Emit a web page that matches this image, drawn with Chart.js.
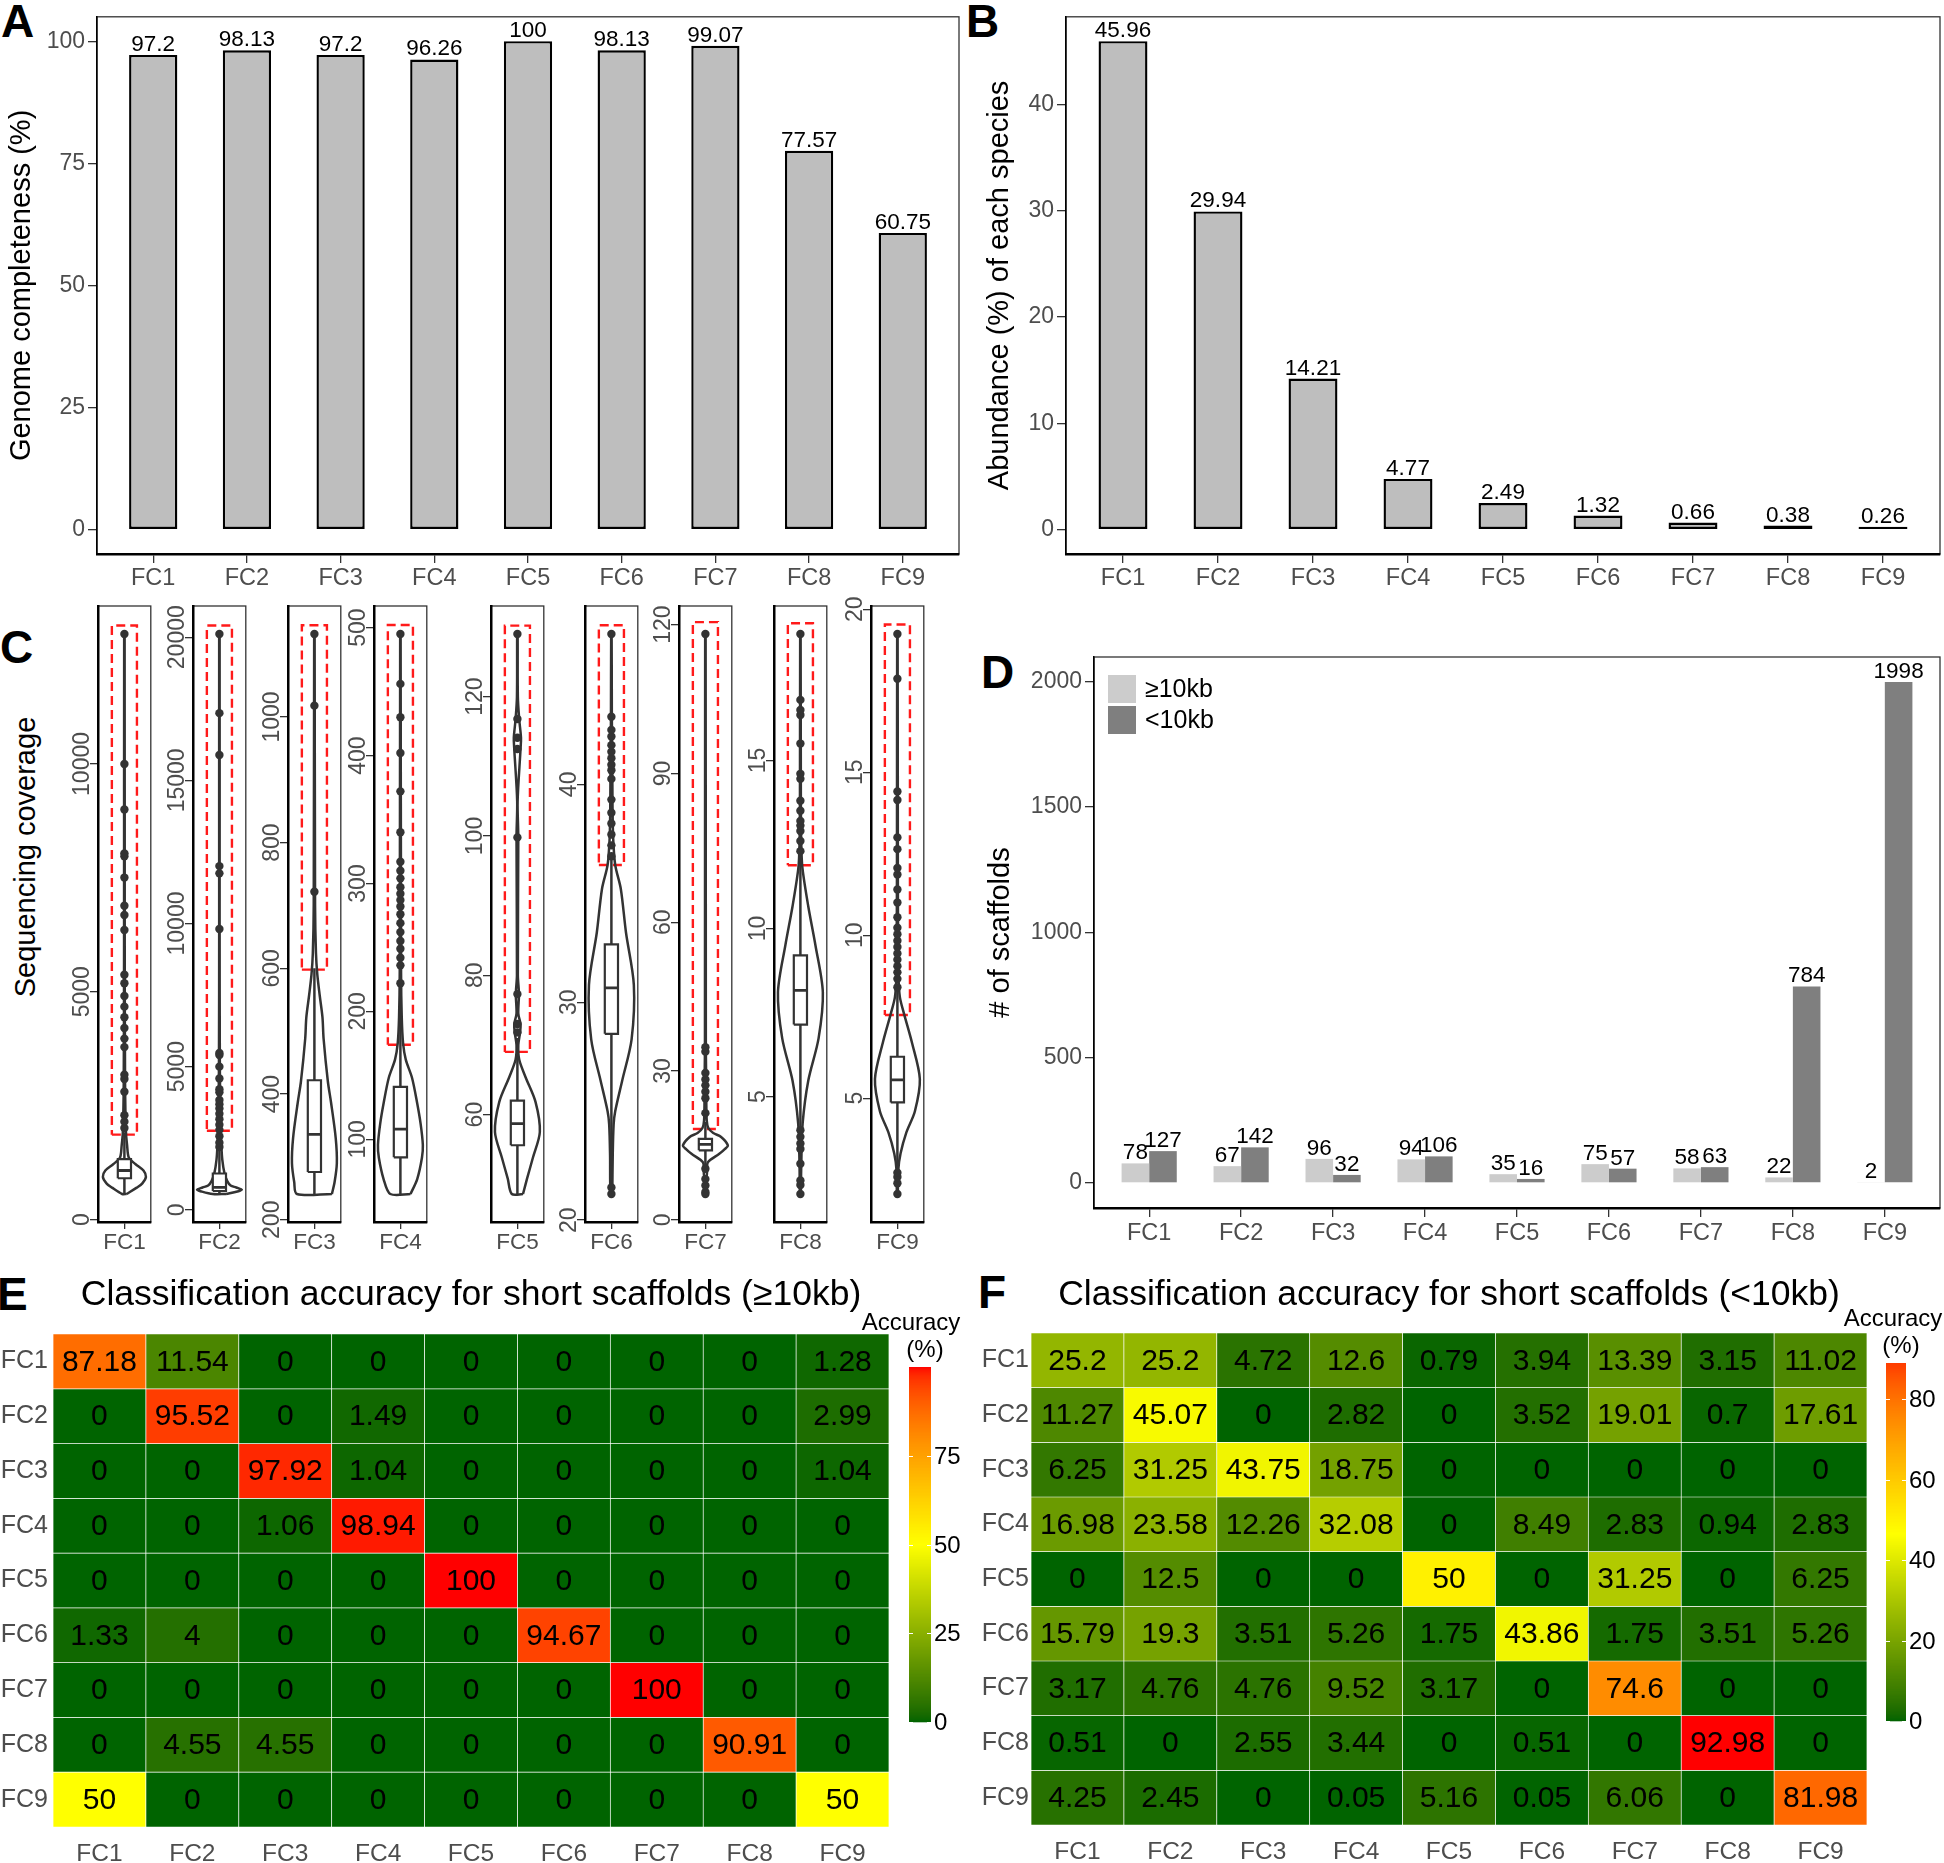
<!DOCTYPE html>
<html>
<head>
<meta charset="utf-8">
<title>Genome bins</title>
<script src="https://cdn.jsdelivr.net/npm/chart.js@4.4.1/dist/chart.umd.min.js"></script>
<style>
  html, body { margin: 0; padding: 0; background: #fff; }
  body { position: relative; width: 1944px; height: 1863px; overflow: hidden; font-family: 'Liberation Sans', Arial, sans-serif; }
  canvas { position: absolute; }
  .tag { position: absolute; font-size: 46px; font-weight: bold; line-height: 1; color: #000; }
  .ytitle { position: absolute; width: 400px; text-align: center; font-size: 29px; line-height: 34px; transform: rotate(-90deg); color: #000; }
</style>
</head>
<body>
<div class="tag" style="left:1px;top:-2px">A</div>
<div class="tag" style="left:966px;top:-2px">B</div>
<div class="tag" style="left:0px;top:624px">C</div>
<div class="tag" style="left:981px;top:649px">D</div>
<div class="tag" style="left:-3px;top:1271px">E</div>
<div class="tag" style="left:978px;top:1269px">F</div>
<div class="ytitle" style="left:-175px;top:840px">Sequencing coverage</div>

<canvas id="cA" width="972" height="600" style="left:0;top:0"></canvas>
<canvas id="cB" width="972" height="600" style="left:972px;top:0"></canvas>
<canvas id="cD" width="972" height="660" style="left:972px;top:600px"></canvas>
<canvas id="cE" width="972" height="603" style="left:0;top:1260px"></canvas>
<canvas id="cF" width="972" height="603" style="left:972px;top:1260px"></canvas>

<script>
const FC = ['FC1', 'FC2', 'FC3', 'FC4', 'FC5', 'FC6', 'FC7', 'FC8', 'FC9'];

// A: genome completeness (%)
const completeness = [97.2, 98.13, 97.2, 96.26, 100, 98.13, 99.07, 77.57, 60.75];
const ticksA = [0, 25, 50, 75, 100];

// B: abundance (%)
const abundance = [45.96, 29.94, 14.21, 4.77, 2.49, 1.32, 0.66, 0.38, 0.26];
const ticksB = [0, 10, 20, 30, 40];

// D: number of scaffolds
const scafLong = [78, 67, 96, 94, 35, 75, 58, 22, 2];
const scafShort = [127, 142, 32, 106, 16, 57, 63, 784, 1998];
const ticksD = [0, 500, 1000, 1500, 2000];

// C: coverage distributions, violin outline as [coverage, relative width]
const shapeFC1 = [[562, 0.1], [702, 0.55], [795, 0.8], [936, 0.96], [1076, 0.85], [1216, 0.5], [1356, 0.2], [1637, 0.12], [1917, 0.07], [3000, 0.03], [6000, 0.015], [12852, 0.01]];
const shapeFC2 = [[552, 0.3], [640, 0.8], [702, 1.0], [780, 0.75], [851, 0.5], [1000, 0.35], [1299, 0.22], [1747, 0.13], [2195, 0.09], [3000, 0.05], [5000, 0.02], [10000, 0.01], [20112, 0.01]];
const shapeFC3 = [[241, 0.78], [260, 0.9], [290, 1.0], [330, 0.95], [387, 0.74], [420, 0.6], [488, 0.41], [522, 0.36], [556, 0.24], [590, 0.13], [624, 0.07], [700, 0.03], [1132, 0.01]];
const shapeFC4 = [[57.3, 0.45], [69, 0.75], [85.6, 0.96], [95.6, 1.0], [112.3, 0.9], [129, 0.74], [148, 0.52], [162.3, 0.24], [175, 0.12], [195.6, 0.06], [230, 0.03], [495, 0.01]];
const shapeFC5 = [[48.6, 0.25], [50.8, 0.43], [53.8, 0.69], [57.5, 1.0], [61.8, 0.81], [65.4, 0.36], [67.9, 0.08], [70, 0.04], [71.8, 0.12], [73, 0.14], [74.5, 0.04], [77.3, 0.07], [80, 0.02], [99.8, 0.04], [105, 0.01], [112.5, 0.14], [114.1, 0.16], [116.8, 0.08], [120, 0.02], [129, 0.01]];
const shapeFC6 = [[21.2, 0.04], [23, 0.06], [24.4, 0.1], [25, 0.17], [26.4, 0.48], [28.3, 0.9], [30.8, 1.0], [33.2, 0.65], [35.2, 0.42], [36.3, 0.17], [37.5, 0.08], [39, 0.05], [41, 0.04], [43, 0.02], [46.9, 0.01]];
const shapeFC7 = [[5.2, 0.03], [8, 0.05], [10, 0.08], [11.6, 0.11], [13.3, 0.62], [14.2, 0.85], [15, 1.0], [16.7, 0.7], [17.5, 0.35], [18.5, 0.13], [20, 0.06], [24, 0.04], [30, 0.03], [35, 0.02], [118.1, 0.01]];
const shapeFC8 = [[2.1, 0.02], [3, 0.04], [4.2, 0.1], [5.47, 0.35], [6.73, 0.81], [8.1, 1.0], [9.5, 0.67], [10.66, 0.35], [11.8, 0.09], [12.5, 0.04], [14, 0.02], [18.76, 0.01]];
const shapeFC9 = [[2.06, 0.02], [2.8, 0.04], [3.3, 0.14], [3.95, 0.4], [4.6, 0.78], [5.59, 1.0], [6.7, 0.65], [7.6, 0.29], [8.1, 0.11], [8.7, 0.05], [10, 0.03], [12, 0.02], [19.24, 0.01]];

// boxplot: [lower whisker, q1, median, q3, upper whisker]
const boxFC = [
  [562, 908, 1078, 1328, 1917],
  [552, 657, 780, 1268, 2150],
  [241, 276, 336, 422, 600],
  [57.3, 86, 108, 141, 222],
  [48.6, 55.6, 58.7, 62, 71],
  [22.5, 28.55, 30.66, 32.66, 36.6],
  [10.6, 14.0, 15.2, 16.3, 19.7],
  [4.1, 7.14, 8.16, 9.2, 12.2],
  [2.8, 4.87, 5.56, 6.27, 8.35]
];

const outFC1 = [2010, 2150, 2290, 2806, 3084, 3178, 3786, 3972, 4206, 4440, 4674, 4908, 5188, 5374, 6356, 6684, 6888, 7506, 7973, 8038, 9000, 10000, 12852];
const outFC2 = [2195, 2344, 2568, 2792, 2970, 3166, 3358, 3539, 3686, 3837, 4106, 4211, 4584, 5000, 5405, 5479, 9808, 11751, 12005, 15884, 17348, 20112];
const outFC3 = [722, 1018, 1132];
const outFC4 = [222, 236, 242, 249, 255, 262, 269, 276, 282, 287, 292, 297, 304, 310, 317, 340, 372, 402, 430, 456, 495];
const outFC5 = [71.8, 73, 77.3, 99.8, 112.5, 114.1, 116.8, 129];
const outFC6 = [21.2, 21.5, 36.7, 37.2, 37.7, 38.2, 38.7, 39.3, 40.25, 40.65, 40.9, 41.2, 41.5, 41.8, 42.2, 42.5, 43.1, 46.9];
const outFC7 = [5.2, 5.6, 6.9, 8.2, 10.3, 21.5, 24.5, 25.8, 27.1, 28.3, 29.6, 33.9, 34.8, 118.1];
const outFC8 = [2.1, 2.37, 2.5, 3.0, 3.44, 3.6, 3.8, 4.0, 12.3, 12.6, 12.9, 13.06, 13.2, 13.5, 13.8, 14.45, 14.6, 15.5, 16.35, 16.5, 16.8, 18.76];
const outFC9 = [2.06, 2.39, 2.58, 2.71, 8.4, 8.66, 8.86, 9.05, 9.25, 9.44, 9.64, 9.83, 10.03, 10.23, 10.55, 11.0, 11.4, 11.86, 12.06, 12.64, 13.0, 14.15, 14.41, 17.87, 19.24];

// red dashed windows: [low, high]
const windowFC = [[1864, 13040], [2760, 20410], [598, 1146], [174, 502], [69, 130.2], [36.3, 47.3], [18.3, 120.5], [11.88, 19.08], [7.55, 19.53]];

const covTicks = [
  [0, 5000, 10000], [0, 5000, 10000, 15000, 20000], [200, 400, 600, 800, 1000],
  [100, 200, 300, 400, 500], [60, 80, 100, 120], [20, 30, 40],
  [0, 30, 60, 90, 120], [5, 10, 15], [5, 10, 15, 20]
];

// E / F: classification accuracy (%), rows = true bin, columns = assigned bin
const accLong = [
  [87.18, 11.54, 0, 0, 0, 0, 0, 0, 1.28],
  [0, 95.52, 0, 1.49, 0, 0, 0, 0, 2.99],
  [0, 0, 97.92, 1.04, 0, 0, 0, 0, 1.04],
  [0, 0, 1.06, 98.94, 0, 0, 0, 0, 0],
  [0, 0, 0, 0, 100, 0, 0, 0, 0],
  [1.33, 4, 0, 0, 0, 94.67, 0, 0, 0],
  [0, 0, 0, 0, 0, 0, 100, 0, 0],
  [0, 4.55, 4.55, 0, 0, 0, 0, 90.91, 0],
  [50, 0, 0, 0, 0, 0, 0, 0, 50]
];
const accShort = [
  [25.2, 25.2, 4.72, 12.6, 0.79, 3.94, 13.39, 3.15, 11.02],
  [11.27, 45.07, 0, 2.82, 0, 3.52, 19.01, 0.7, 17.61],
  [6.25, 31.25, 43.75, 18.75, 0, 0, 0, 0, 0],
  [16.98, 23.58, 12.26, 32.08, 0, 8.49, 2.83, 0.94, 2.83],
  [0, 12.5, 0, 0, 50, 0, 31.25, 0, 6.25],
  [15.79, 19.3, 3.51, 5.26, 1.75, 43.86, 1.75, 3.51, 5.26],
  [3.17, 4.76, 4.76, 9.52, 3.17, 0, 74.6, 0, 0],
  [0.51, 0, 2.55, 3.44, 0, 0.51, 0, 92.98, 0],
  [4.25, 2.45, 0, 0.05, 5.16, 0.05, 6.06, 0, 81.98]
];
const cbTicksE = [0, 25, 50, 75];
const cbTicksF = [0, 20, 40, 60, 80];

// ---------------------------------------------------------------
const FONT = "'Liberation Sans', Arial, sans-serif";
const GREY = '#4d4d4d';
Chart.defaults.font.family = FONT;
Chart.defaults.color = GREY;
Chart.defaults.responsive = false;
Chart.defaults.maintainAspectRatio = false;
Chart.defaults.animation = false;
Chart.defaults.events = [];
Chart.defaults.plugins.legend.display = false;
Chart.defaults.plugins.tooltip.enabled = false;

const setTicks = arr => s => { s.ticks = arr.map(v => ({ value: v })); };
const fixW = w => s => { s.width = w; };
const fixH = h => s => { s.height = h; };
const tickGrid = len => ({ display: true, drawOnChartArea: false, offset: false, drawTicks: true, tickLength: len, color: '#333', lineWidth: 1.3 });
const asPoints = arr => arr.map((v, i) => ({ x: i + 1, y: v }));
const padded = (lo, hi) => { const p = (hi - lo) * 0.05; return [lo - p, hi + p]; };

// thin panel border
const frame = {
  id: 'frame',
  beforeDraw(chart) {
    const a = chart.chartArea, ctx = chart.ctx;
    ctx.save();
    ctx.strokeStyle = '#333';
    ctx.lineWidth = 1.3;
    ctx.strokeRect(a.left, a.top, a.right - a.left, a.bottom - a.top);
    ctx.restore();
  }
};

// numbers above bars
const valueLabels = {
  id: 'valueLabels',
  afterDatasetsDraw(chart) {
    const ctx = chart.ctx;
    ctx.save();
    ctx.font = '22.5px ' + FONT;
    ctx.fillStyle = '#000';
    ctx.textAlign = 'center';
    ctx.textBaseline = 'alphabetic';
    chart.data.datasets.forEach((ds, i) => {
      chart.getDatasetMeta(i).data.forEach((el, j) => {
        ctx.fillText(String(ds.data[j].y), el.x, el.y - 4);
      });
    });
    ctx.restore();
  }
};

// legend keys inside panel D
const keyLegend = {
  id: 'keyLegend',
  afterDraw(chart) {
    const ctx = chart.ctx, a = chart.chartArea;
    ctx.save();
    ctx.font = '25px ' + FONT;
    ctx.textBaseline = 'middle';
    chart.data.datasets.forEach((ds, i) => {
      const y = a.top + 18 + i * 31;
      ctx.fillStyle = ds.backgroundColor;
      ctx.fillRect(a.left + 14, y, 28, 28);
      ctx.fillStyle = '#000';
      ctx.fillText(ds.label, a.left + 51, y + 15);
    });
    ctx.restore();
  }
};

function barOptions(o) {
  return {
    layout: { padding: o.padding },
    scales: {
      x: {
        type: 'linear', min: 0.4, max: 9.6, offset: false,
        afterBuildTicks: setTicks(FC.map((n, i) => i + 1)),
        ticks: { callback: v => FC[v - 1], color: GREY, font: { size: 23.5 }, padding: o.xPad, autoSkip: false, maxRotation: 0 },
        grid: tickGrid(9),
        border: { color: '#000', width: 2.6 },
        afterFit: fixH(o.xH)
      },
      y: {
        min: o.range[0], max: o.range[1],
        afterBuildTicks: setTicks(o.ticks),
        ticks: { callback: v => String(v), color: GREY, font: { size: 23 }, padding: 3 },
        grid: tickGrid(9),
        border: { color: '#000', width: 1.5 },
        title: { display: true, text: o.title, color: '#000', font: { size: 29 }, padding: { top: o.titlePad, bottom: 0 } },
        afterFit: fixW(o.yW)
      }
    }
  };
}

const greyBar = { backgroundColor: '#bebebe', borderColor: '#000', borderWidth: 2.4, borderSkipped: false, barPercentage: 0.515, categoryPercentage: 1 };

new Chart(document.getElementById('cA'), {
  type: 'bar',
  data: { datasets: [Object.assign({ data: asPoints(completeness) }, greyBar)] },
  options: barOptions({ padding: { top: 3, right: 13 }, xH: 46, xPad: 1, yW: 97, range: padded(0, Math.max(...completeness)), ticks: ticksA, title: 'Genome completeness (%)', titlePad: 5 }),
  plugins: [frame, valueLabels]
});

new Chart(document.getElementById('cB'), {
  type: 'bar',
  data: { datasets: [Object.assign({ data: asPoints(abundance) }, greyBar)] },
  options: barOptions({ padding: { top: 3, right: 4 }, xH: 46, xPad: 1, yW: 94, range: padded(0, Math.max(...abundance)), ticks: ticksB, title: 'Abundance (%) of each species', titlePad: 11 }),
  plugins: [frame, valueLabels]
});

new Chart(document.getElementById('cD'), {
  type: 'bar',
  data: {
    datasets: [
      { label: '\u226510kb', data: asPoints(scafLong), backgroundColor: '#cccccc', barPercentage: 1, categoryPercentage: 0.6 },
      { label: '<10kb', data: asPoints(scafShort), backgroundColor: '#7f7f7f', barPercentage: 1, categoryPercentage: 0.6 }
    ]
  },
  options: barOptions({ padding: { top: 57, right: 4 }, xH: 52, xPad: 2, yW: 122, range: padded(0, Math.max(...scafShort)), ticks: ticksD, title: '# of scaffolds', titlePad: 12 }),
  plugins: [frame, valueLabels, keyLegend]
});

// ---------------- C: violins ----------------
const shapes = [shapeFC1, shapeFC2, shapeFC3, shapeFC4, shapeFC5, shapeFC6, shapeFC7, shapeFC8, shapeFC9];
const outliers = [outFC1, outFC2, outFC3, outFC4, outFC5, outFC6, outFC7, outFC8, outFC9];
const cPanelLeft = [98, 193, 288, 374, 491, 585, 679, 774, 871];
const VIOLIN_HALF = 0.51, BOX_HALF = 0.15, WIN_HALF = 0.285;

const rotTicks = {
  id: 'rotTicks',
  afterDraw(chart) {
    const s = chart.scales.y, ctx = chart.ctx;
    ctx.save();
    ctx.font = '23px ' + FONT;
    ctx.fillStyle = GREY;
    ctx.textAlign = 'center';
    ctx.textBaseline = 'middle';
    s.ticks.forEach(t => {
      ctx.save();
      ctx.translate(s.right - 15, s.getPixelForValue(t.value));
      ctx.rotate(-Math.PI / 2);
      ctx.fillText(String(t.value), 0, 0);
      ctx.restore();
    });
    ctx.restore();
  }
};

function violinOutline(shape) {
  const right = shape.map(([v, w]) => ({ x: w * VIOLIN_HALF, y: v }));
  const left = shape.slice().reverse().map(([v, w]) => ({ x: -w * VIOLIN_HALF, y: v }));
  return right.concat(left, [right[0]]);
}

shapes.forEach((shape, i) => {
  const cv = document.createElement('canvas');
  cv.width = 99; cv.height = 664;
  cv.style.left = (cPanelLeft[i] - 42) + 'px';
  cv.style.top = '596px';
  document.body.appendChild(cv);

  const [lw, q1, med, q3, uw] = boxFC[i];
  const [wl, wh] = windowFC[i];
  const allVals = shape.map(p => p[0]).concat(outliers[i]);
  const range = padded(Math.min(...allVals), Math.max(...allVals));
  const line = { showLine: true, pointRadius: 0, borderColor: '#333', borderWidth: 2.5, fill: false };

  new Chart(cv, {
    type: 'scatter',
    data: {
      datasets: [
        Object.assign({}, line, { data: [{ x: -WIN_HALF, y: wl }, { x: WIN_HALF, y: wl }, { x: WIN_HALF, y: wh }, { x: -WIN_HALF, y: wh }, { x: -WIN_HALF, y: wl }], borderColor: '#ff1a1a', borderWidth: 2.4, borderDash: [9, 5], order: 6 }),
        Object.assign({}, line, { data: violinOutline(shape), tension: 0.3, order: 5 }),
        Object.assign({}, line, { data: [{ x: 0, y: lw }, { x: 0, y: q1 }, { x: 0, y: null }, { x: 0, y: q3 }, { x: 0, y: uw }], spanGaps: false, order: 4 }),
        Object.assign({}, line, { data: [{ x: -BOX_HALF, y: q1 }, { x: BOX_HALF, y: q1 }, { x: BOX_HALF, y: q3 }, { x: -BOX_HALF, y: q3 }, { x: -BOX_HALF, y: q1 }], fill: 'shape', backgroundColor: '#fff', borderWidth: 2.2, order: 3 }),
        Object.assign({}, line, { data: [{ x: -BOX_HALF, y: med }, { x: BOX_HALF, y: med }], borderWidth: 2.8, order: 2 }),
        { data: outliers[i].map(v => ({ x: 0, y: v })), pointRadius: 4.2, pointBackgroundColor: '#333', pointBorderWidth: 0, showLine: false, order: 1 }
      ]
    },
    options: {
      layout: { padding: { top: 10, right: 4 } },
      scales: {
        x: {
          type: 'linear', min: -0.6, max: 0.6,
          afterBuildTicks: setTicks([0]),
          ticks: { callback: () => FC[i], color: GREY, font: { size: 22.5 }, padding: 0, autoSkip: false, maxRotation: 0 },
          grid: tickGrid(7),
          border: { color: '#000', width: 2.5 },
          afterFit: fixH(38)
        },
        y: {
          min: range[0], max: range[1],
          afterBuildTicks: setTicks(covTicks[i]),
          ticks: { display: false },
          grid: tickGrid(8),
          border: { color: '#000', width: 2.5 },
          afterFit: fixW(42)
        }
      }
    },
    plugins: [frame, rotTicks]
  });
});

// ---------------- E / F: heatmaps ----------------
function toLab(hex) {
  const c = [1, 3, 5].map(k => parseInt(hex.slice(k, k + 2), 16) / 255)
    .map(v => v <= 0.04045 ? v / 12.92 : Math.pow((v + 0.055) / 1.055, 2.4));
  const X = (c[0] * 0.4124564 + c[1] * 0.3575761 + c[2] * 0.1804375) / 0.95047;
  const Y = c[0] * 0.2126729 + c[1] * 0.7151522 + c[2] * 0.0721750;
  const Z = (c[0] * 0.0193339 + c[1] * 0.1191920 + c[2] * 0.9503041) / 1.08883;
  const f = t => t > 0.008856 ? Math.cbrt(t) : 7.787 * t + 16 / 116;
  return [116 * f(Y) - 16, 500 * (f(X) - f(Y)), 200 * (f(Y) - f(Z))];
}
function fromLab(L, a, b) {
  const fy = (L + 16) / 116, fx = fy + a / 500, fz = fy - b / 200;
  const inv = t => t * t * t > 0.008856 ? t * t * t : (t - 16 / 116) / 7.787;
  const X = inv(fx) * 0.95047, Y = inv(fy), Z = inv(fz) * 1.08883;
  const rgb = [
    X * 3.2404542 - Y * 1.5371385 - Z * 0.4985314,
    -X * 0.9692660 + Y * 1.8760108 + Z * 0.0415560,
    X * 0.0556434 - Y * 0.2040259 + Z * 1.0572252
  ].map(v => {
    v = v <= 0.0031308 ? 12.92 * v : 1.055 * Math.pow(v, 1 / 2.4) - 0.055;
    return Math.round(Math.min(1, Math.max(0, v)) * 255);
  });
  return 'rgb(' + rgb.join(',') + ')';
}
const LAB_GREEN = toLab('#006400'), LAB_YELLOW = toLab('#ffff00'), LAB_RED = toLab('#ff0000');
function accColor(v, lo, hi) {
  let t = (v - lo) / (hi - lo);
  t = Math.min(1, Math.max(0, t));
  const [p, q, u] = t <= 0.5 ? [LAB_GREEN, LAB_YELLOW, t * 2] : [LAB_YELLOW, LAB_RED, (t - 0.5) * 2];
  return fromLab(p[0] + (q[0] - p[0]) * u, p[1] + (q[1] - p[1]) * u, p[2] + (q[2] - p[2]) * u);
}

const cellText = {
  id: 'cellText',
  afterDatasetsDraw(chart) {
    const ctx = chart.ctx;
    ctx.save();
    ctx.font = '30px ' + FONT;
    ctx.fillStyle = '#000';
    ctx.textAlign = 'center';
    ctx.textBaseline = 'middle';
    chart.data.datasets.forEach((ds, i) => {
      chart.getDatasetMeta(i).data.forEach((el, j) => {
        ctx.fillText(String(ds.accuracy[j]), el.x, (el.y + el.base) / 2 + 1);
      });
    });
    ctx.restore();
  }
};

const colorbar = {
  id: 'colorbar',
  afterDraw(chart, args, o) {
    const ctx = chart.ctx;
    const span = o.yBottom - o.yTop;
    const px = v => o.yBottom - span * v / o.top;
    ctx.save();
    for (let k = 0; k < span; k++) {
      ctx.fillStyle = accColor(o.top * (k + 0.5) / span, o.lo, o.hi);
      ctx.fillRect(o.x, o.yBottom - k - 1, o.w, 1.3);
    }
    ctx.strokeStyle = '#fff';
    ctx.lineWidth = 1;
    ctx.fillStyle = '#000';
    ctx.font = '24px ' + FONT;
    ctx.textBaseline = 'middle';
    ctx.textAlign = 'left';
    o.ticks.forEach(t => {
      const y = Math.round(px(t)) + 0.5;
      ctx.beginPath();
      ctx.moveTo(o.x, y); ctx.lineTo(o.x + 4, y);
      ctx.moveTo(o.x + o.w - 4, y); ctx.lineTo(o.x + o.w, y);
      ctx.stroke();
      ctx.fillText(String(t), o.x + o.w + 3, y + 1);
    });
    ctx.textAlign = 'center';
    ctx.fillText('Accuracy', o.titleX, o.yTop - 44);
    ctx.fillText('(%)', o.pctX, o.yTop - 17);
    ctx.restore();
  }
};

function heatPanel(id, matrix, title, o) {
  const vals = matrix.flat();
  const lo = Math.min(...vals), hi = Math.max(...vals);
  const n = FC.length;
  new Chart(document.getElementById(id), {
    type: 'bar',
    data: {
      labels: FC,
      datasets: matrix.map((row, i) => ({
        accuracy: row,
        data: row.map(() => [n - 1 - i, n - i]),
        backgroundColor: row.map(v => accColor(v, lo, hi)),
        borderColor: 'rgba(255,255,255,0.55)',
        borderWidth: 0.7,
        borderSkipped: false,
        grouped: false,
        barPercentage: 1,
        categoryPercentage: 1
      }))
    },
    options: {
      layout: { padding: { right: o.padRight } },
      plugins: {
        title: { display: true, text: title, color: '#000', fullSize: false, font: { size: 35.5, weight: 'normal' }, padding: { top: 14, bottom: o.titleBottom } },
        colorbar: Object.assign({ lo, hi }, o.bar)
      },
      scales: {
        x: {
          grid: { display: false, drawTicks: false },
          border: { display: false },
          ticks: { color: GREY, font: { size: 24.5 }, padding: o.xPad },
          afterFit: fixH(o.xH)
        },
        y: {
          min: 0, max: n,
          afterBuildTicks: setTicks(FC.map((r, i) => n - 0.5 - i)),
          ticks: { callback: (v, k) => FC[k], color: GREY, font: { size: 25 }, padding: o.yPad },
          grid: { display: false, drawTicks: false },
          border: { display: false },
          afterFit: fixW(o.yW)
        }
      }
    },
    plugins: [cellText, colorbar]
  });
}

heatPanel('cE', accLong, 'Classification accuracy for short scaffolds (\u226510kb)', {
  padRight: 83, titleBottom: 17.4, xH: 36, xPad: 13, yW: 53, yPad: 5,
  bar: { x: 909, w: 22, yBottom: 462, yTop: 107, top: 100, ticks: cbTicksE, titleX: 911, pctX: 925 }
});
heatPanel('cF', accShort, 'Classification accuracy for short scaffolds (<10kb)', {
  padRight: 77, titleBottom: 16.4, xH: 38, xPad: 13, yW: 59, yPad: 2,
  bar: { x: 914, w: 20, yBottom: 461, yTop: 103, top: 89, ticks: cbTicksF, titleX: 921, pctX: 929 }
});
</script>
</body>
</html>
